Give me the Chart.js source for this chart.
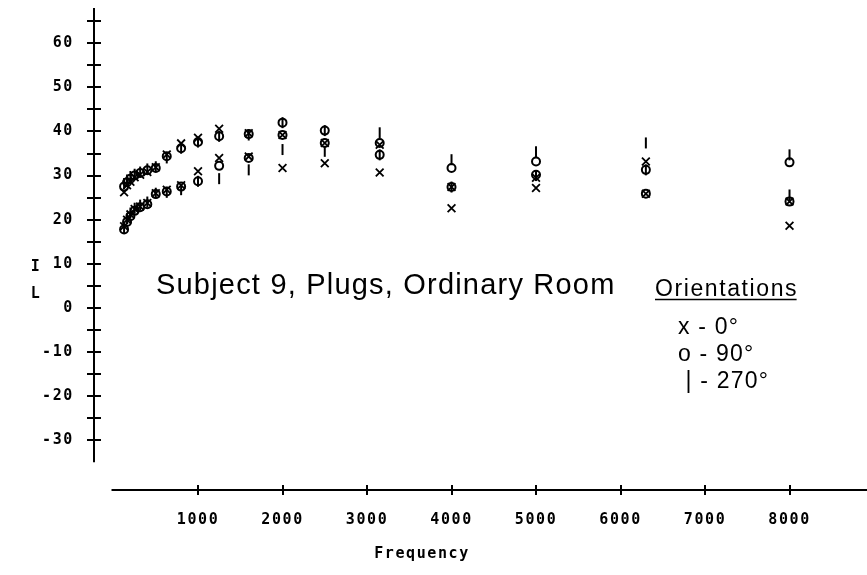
<!DOCTYPE html>
<html><head><meta charset="utf-8">
<script src="https://cdn.jsdelivr.net/npm/chart.js@4.4.1/dist/chart.umd.min.js"></script>
<style>html,body{margin:0;padding:0;background:#fff;overflow:hidden}#wrap{width:867px;height:575px}</style>
</head><body><div id="wrap"><canvas id="c" width="867" height="575"></canvas></div>
<script>
// Third-octave band frequencies (Hz)
const frequencies = [125,160,200,250,315,400,500,630,800,1000,1250,1600,2000,2500,3150,4000,5000,6300,8000];
// Orientation 0° (x), two measurement runs
const deg0RunA = [26.2,27.8,28.6,29.6,30.2,30.8,31.9,34.8,37.3,38.6,40.6,39.6,39.2,37.4,37.0,27.4,29.5,33.2,24.1];
const deg0RunB = [18.5,20.0,21.2,22.4,23.0,23.8,26.0,26.8,27.8,31.0,34.0,34.3,31.7,32.8,30.7,22.6,27.2,25.9,18.6];
// Orientation 90° (o)
const deg90RunA = [27.5,28.5,29.3,30.0,30.6,31.2,31.7,34.4,36.2,37.6,38.9,39.4,42.0,40.2,37.4,31.7,33.2,31.3,33.0];
const deg90RunB = [17.8,19.5,20.8,22.0,22.8,23.5,25.8,26.4,27.5,28.7,32.2,34.0,39.2,37.4,34.7,27.4,30.2,25.9,24.1];
// Orientation 270° (|)
const deg270RunA = [28.2,29.0,29.8,30.3,30.8,31.5,32.0,34.0,36.2,37.6,38.9,39.2,42.0,40.2,39.7,33.6,35.4,37.4,34.7];
const deg270RunB = [18.2,20.2,21.5,22.6,23.3,24.0,26.0,26.2,26.8,28.7,29.3,31.3,35.9,35.5,34.7,27.4,30.0,31.3,25.6];

const yTickLabels = [-30,-20,-10,0,10,20,30,40,50,60];
const xTickLabels = [1000,2000,3000,4000,5000,6000,7000,8000];
const titleText = 'Subject 9, Plugs, Ordinary Room';
const legendTitle = 'Orientations';
const legendLines = ['x - 0°', 'o - 90°', ' | - 270°'];
const xAxisLabel = 'Frequency';
const yAxisLabel = ['I', 'L'];

const toPoints = (vals) => vals.map((v, i) => ({x: frequencies[i], y: v}));
const MONO = '"DejaVu Sans Mono", monospace';
const SANS = '"Liberation Sans", Arial, sans-serif';

const decor = {
  id: 'decor',
  beforeDraw(chart) { chart.ctx.letterSpacing = '1.6px'; },
  afterDraw(chart) {
    const ctx = chart.ctx, xs = chart.scales.x, ys = chart.scales.y, ca = chart.chartArea;
    ctx.save();
    ctx.letterSpacing = '0px';
    ctx.strokeStyle = '#000';
    ctx.lineWidth = 2;
    // y axis
    const ax = ca.left;
    ctx.beginPath();
    ctx.moveTo(ax, ys.getPixelForValue(68));
    ctx.lineTo(ax, ys.getPixelForValue(-35));
    ctx.stroke();
    for (let v = -30; v <= 65; v += 5) {
      const py = Math.round(ys.getPixelForValue(v));
      ctx.beginPath(); ctx.moveTo(ax - 7, py); ctx.lineTo(ax + 7, py); ctx.stroke();
    }
    // x axis
    const ay = ca.bottom;
    ctx.beginPath();
    ctx.moveTo(xs.getPixelForValue(0) - 2, ay);
    ctx.lineTo(chart.width, ay);
    ctx.stroke();
    xTickLabels.forEach(v => {
      const px = Math.round(xs.getPixelForValue(v));
      ctx.beginPath(); ctx.moveTo(px, ay - 5); ctx.lineTo(px, ay + 5); ctx.stroke();
    });
    // axis labels
    ctx.fillStyle = '#000';
    ctx.letterSpacing = '1.6px';
    ctx.font = 'bold 15px ' + MONO;
    ctx.textAlign = 'center';
    ctx.textBaseline = 'alphabetic';
    ctx.fillText(xAxisLabel, 422, 558);
    ctx.fillText(yAxisLabel[0], 36, 271);
    ctx.fillText(yAxisLabel[1], 36, 298);
    // title
    ctx.textAlign = 'left';
    ctx.letterSpacing = '1.2px';
    ctx.font = '29px ' + SANS;
    ctx.fillText(titleText, 156, 294);
    // legend
    ctx.letterSpacing = '1.6px';
    ctx.font = '23px ' + SANS;
    ctx.fillText(legendTitle, 655, 296);
    const w = ctx.measureText(legendTitle).width - 1.6;
    ctx.lineWidth = 1.5;
    ctx.beginPath(); ctx.moveTo(655, 299.5); ctx.lineTo(655 + w, 299.5); ctx.stroke();
    ctx.letterSpacing = '1.2px';
    legendLines.forEach((t, i) => ctx.fillText(t, 678, 334 + i * 27));
    ctx.restore();
  }
};

const common = {showLine: false, borderColor: '#000', backgroundColor: 'rgba(0,0,0,0)', pointBorderColor: '#000', pointBackgroundColor: 'rgba(0,0,0,0)'};
const zeroPad = s => { s.paddingLeft = 0; s.paddingRight = 0; s.paddingTop = 0; s.paddingBottom = 0; };

new Chart(document.getElementById('c'), {
  type: 'scatter',
  data: {
    datasets: [
      Object.assign({label: '0°', data: toPoints(deg0RunA).concat(toPoints(deg0RunB)), pointStyle: 'crossRot', pointRadius: 5.5, pointBorderWidth: 1.8}, common),
      Object.assign({label: '90°', data: toPoints(deg90RunA).concat(toPoints(deg90RunB)), pointStyle: 'circle', pointRadius: 4, pointBorderWidth: 2}, common),
      Object.assign({label: '270°', data: toPoints(deg270RunA).concat(toPoints(deg270RunB)), pointStyle: 'line', pointRotation: 90, pointRadius: 5.5, pointBorderWidth: 2}, common)
    ]
  },
  options: {
    responsive: false,
    animation: false,
    devicePixelRatio: 1,
    layout: {autoPadding: false, padding: {left: 0, top: 8, right: 0, bottom: 0}},
    plugins: {legend: {display: false}, tooltip: {enabled: false}},
    scales: {
      x: {
        type: 'linear', position: 'bottom', min: -231, max: 8917,
        grid: {display: false, drawTicks: false}, border: {display: false},
        ticks: {padding: 21, color: '#000', font: {family: MONO, size: 15, weight: 'bold'}, maxRotation: 0, autoSkip: false, callback: v => String(v)},
        afterBuildTicks: s => { s.ticks = xTickLabels.map(v => ({value: v})); },
        afterFit: s => { s.height = 85; zeroPad(s); }
      },
      y: {
        type: 'linear', position: 'left', min: -41.3, max: 68,
        grid: {display: false, drawTicks: false}, border: {display: false},
        ticks: {padding: 20, color: '#000', font: {family: MONO, size: 15, weight: 'bold'}, autoSkip: false, callback: v => String(v)},
        afterBuildTicks: s => { s.ticks = yTickLabels.map(v => ({value: v})); },
        afterFit: s => { s.width = 94; zeroPad(s); }
      }
    }
  },
  plugins: [decor]
});
</script>
</body></html>
